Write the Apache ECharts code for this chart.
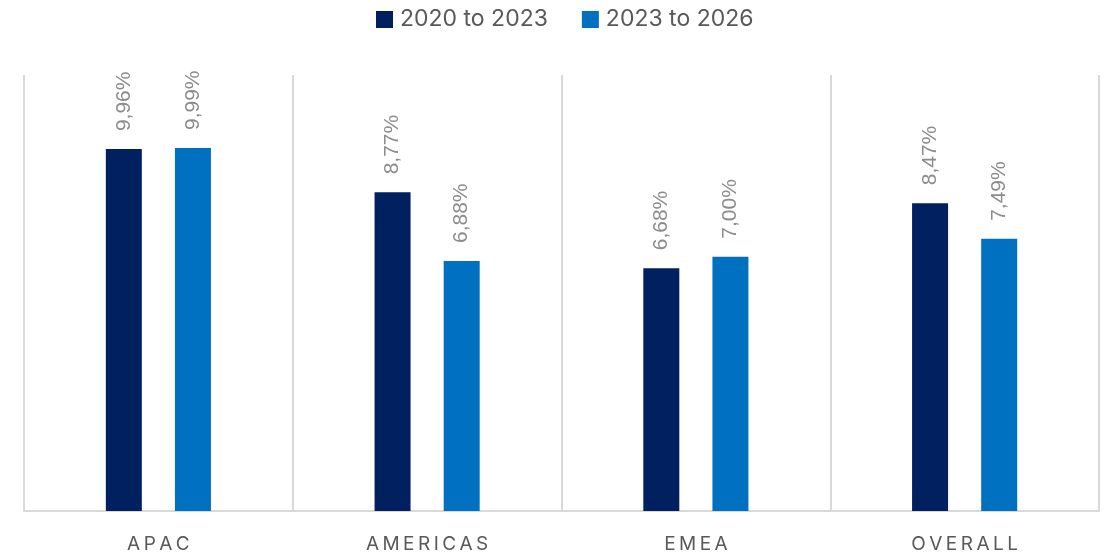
<!DOCTYPE html>
<html>
<head>
<meta charset="utf-8">
<script src="https://cdn.jsdelivr.net/npm/echarts@6/dist/echarts.min.js"></script>
<style>
  html, body { margin: 0; padding: 0; background: #fff; }
  #chart { width: 1104px; height: 557px; }
</style>
</head>
<body>
<div id="chart"></div>
<script>
// Regions and growth rates (percent)
const categories = ['APAC', 'AMERICAS', 'EMEA', 'OVERALL'];
const seriesNames = ['2020 to 2023', '2023 to 2026'];
const growth2020to2023 = [9.96, 8.77, 6.68, 8.47];
const growth2023to2026 = [9.99, 6.88, 7.00, 7.49];
const colors = ['#002060', '#0070c0'];

const FONT = 'Inter, "Open Sans", sans-serif';
const LABEL_FONT = '"Liberation Sans", Arial, sans-serif';

function pct(v) {
  return v.toFixed(2).replace('.', ',') + '%';
}

// Spread letters of category names apart
function spaced(s) {
  return s.split('').join('\u2009');
}

const chart = echarts.init(document.getElementById('chart'));

const labelStyle = {
  show: true,
  position: 'top',
  rotate: 90,
  align: 'left',
  verticalAlign: 'middle',
  distance: 18,
  color: '#8c8c8c',
  fontFamily: LABEL_FONT,
  fontSize: 21,
  formatter: p => pct(p.value)
};

chart.setOption({
  animation: false,
  color: colors,
  legend: {
    top: 8,
    left: 376,
    padding: 0,
    itemWidth: 17,
    itemHeight: 17,
    itemGap: 34,
    icon: 'rect',
    textStyle: { color: '#595959', fontFamily: FONT, fontSize: 23, padding: [0, 0, 0, 2] },
    data: seriesNames
  },
  grid: { left: 24, right: 5, top: 75, bottom: 46 },
  xAxis: {
    type: 'category',
    data: categories,
    axisLine: { lineStyle: { color: '#d9d9d9', width: 2 } },
    axisTick: { show: false },
    axisLabel: {
      color: '#595959',
      fontFamily: FONT,
      fontSize: 19,
      margin: 24,
      formatter: v => spaced(v)
    },
    splitLine: { show: true, lineStyle: { color: '#d9d9d9', width: 2 } }
  },
  yAxis: {
    type: 'value',
    min: 0,
    max: 12,
    show: false,
    splitLine: { show: false }
  },
  series: [
    {
      name: seriesNames[0],
      type: 'bar',
      barWidth: 36,
      barGap: '92%',
      data: growth2020to2023,
      label: labelStyle
    },
    {
      name: seriesNames[1],
      type: 'bar',
      barWidth: 36,
      data: growth2023to2026,
      label: labelStyle
    }
  ]
});
</script>
</body>
</html>
